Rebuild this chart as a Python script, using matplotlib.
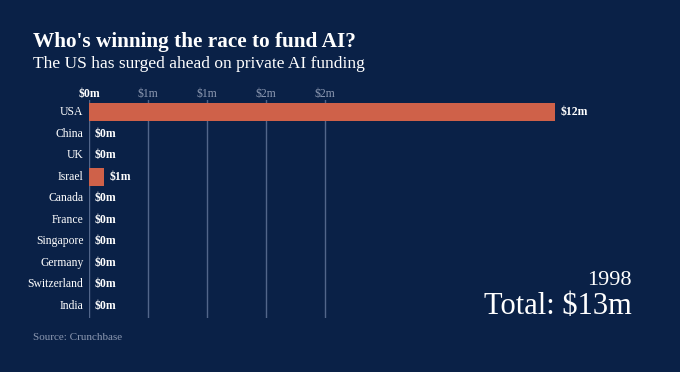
import numpy as np
import matplotlib.pyplot as plt

# frame data (1998)
countries = ["USA", "China", "UK", "Israel", "Canada", "France",
             "Singapore", "Germany", "Switzerland", "India"]
funding = [12.0, 0, 0, 0.39, 0, 0, 0, 0, 0, 0]
value_labels = ["$12m", "$0m", "$0m", "$1m", "$0m", "$0m",
                "$0m", "$0m", "$0m", "$0m"]
grid_values = [0, 1.52, 3.04, 4.56, 6.08]
grid_labels = ["$0m", "$1m", "$1m", "$2m", "$2m"]
year = "1998"
total = "Total: $13m"

bg = "#0a2147"
bar_col = "#cf6149"
grid_col = "#52668a"
serif = ["Liberation Serif", "DejaVu Serif"]

fig = plt.figure(figsize=(6.8, 3.72), dpi=100)
fig.patch.set_facecolor(bg)
ax = fig.add_axes([89/680, 1 - 318/372, 466/680, 218/372])
ax.set_facecolor(bg)

y = np.arange(len(countries))
for gv in grid_values:
    ax.axvline(gv, color=grid_col, lw=1, zorder=0)
ax.barh(y, funding, height=0.83, color=bar_col, zorder=2)

for yi, v, lab in zip(y, funding, value_labels):
    ax.annotate(lab, (v, yi), xytext=(4, 0), textcoords="offset points",
                ha="left", va="center", color="white", fontsize=8.5,
                fontweight="bold", family=serif, annotation_clip=False)
    ax.annotate(countries[yi], (0, yi), xytext=(-4, 0), textcoords="offset points",
                ha="right", va="center", color="white", fontsize=8.4,
                family=serif, annotation_clip=False)

for i, (gv, gl) in enumerate(zip(grid_values, grid_labels)):
    ax.annotate(gl, (gv, -0.557), xytext=(0, 0), textcoords="offset points",
                ha="center", va="bottom", fontsize=8.5,
                color="white" if i == 0 else "#8a97b0",
                fontweight="bold" if i == 0 else "normal",
                family=serif, annotation_clip=False)

ax.set_xlim(0, 12)
ax.set_ylim(9.557, -0.557)
ax.axis("off")

fig.text(33/680, 1 - 47/372, "Who's winning the race to fund AI?", color="white",
         fontsize=15.3, fontweight="bold", family=serif, va="baseline")
fig.text(33/680, 1 - 68/372, "The US has surged ahead on private AI funding",
         color="white", fontsize=12.5, family=serif, va="baseline")
fig.text(632/680, 1 - 285/372, year, color="white", fontsize=16,
         family=serif, ha="right", va="baseline")
fig.text(632/680, 1 - 314/372, total, color="white", fontsize=22,
         family=serif, ha="right", va="baseline")
fig.text(33/680, 1 - 340/372, "Source: Crunchbase", color="#8a97b0",
         fontsize=8, family=serif, va="baseline")

fig.savefig("out.png", dpi=100, facecolor=bg)
